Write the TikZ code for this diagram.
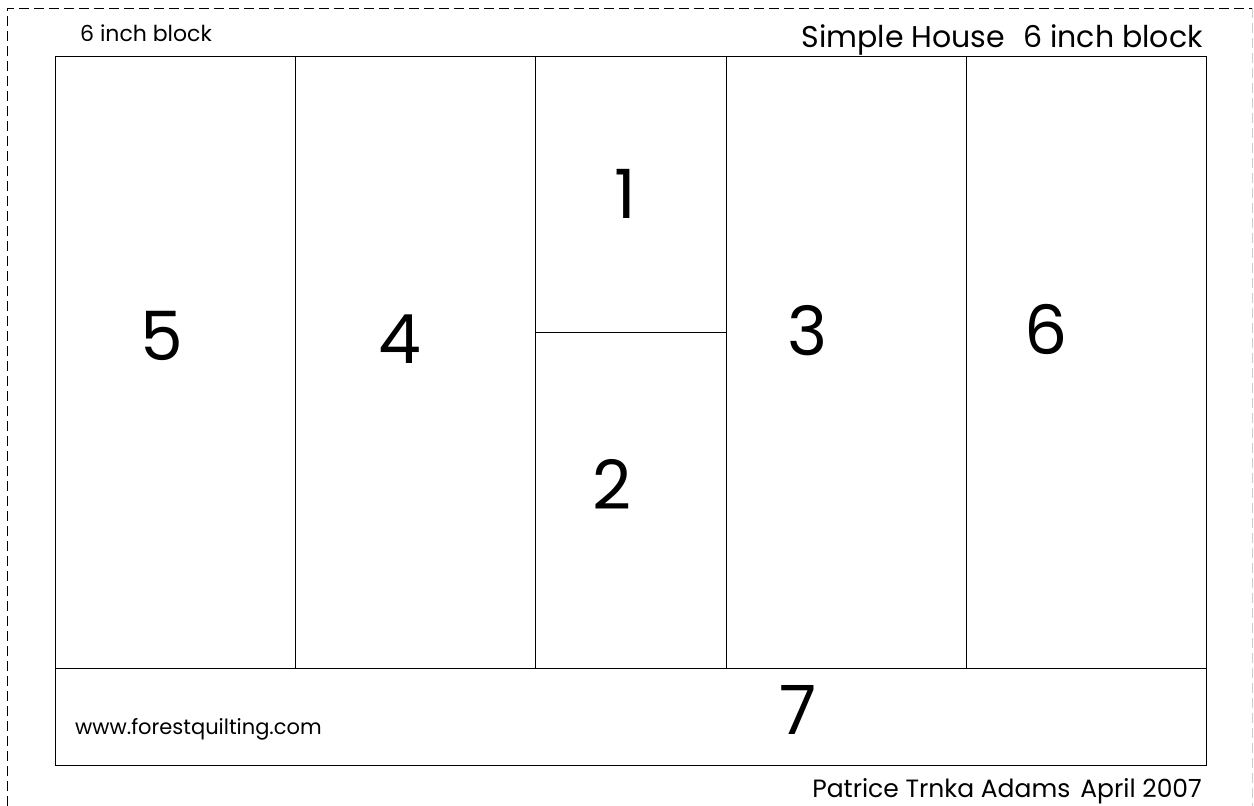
\documentclass[tikz,border=0pt]{standalone}
\usepackage{fontspec}
\setmainfont{Poppins}
\begin{document}
\begin{tikzpicture}[x=1pt,y=-1pt,
  cell/.style={draw=black,line width=0.9pt},
  num/.style={font=\fontsize{68}{68}\selectfont, inner sep=0pt},
  lbl/.style={inner sep=0pt, anchor=base west}]
\useasboundingbox (0,0) rectangle (1254,806);
\fill[white] (0,0) rectangle (1254,806);
% cut line
\draw[dash pattern=on 10pt off 5pt, line width=0.8pt] (7,806) -- (7,8) -- (1252,8);
\draw[dash pattern=on 10pt off 5pt, line width=0.8pt, gray!40] (1252,8) -- (1252,806);
% block
\coordinate (tl) at (55,56);
\coordinate (br) at (1206,765);
\draw[cell] (tl) rectangle (br);
\draw[cell] (55,668) -- (1206,668);
\foreach \x in {295,535,726,966} \draw[cell] (\x,56) -- (\x,668);
\draw[cell] (535,332) -- (726,332);
% numbers
\node[num] (n1) at (625,194) {1};
\node[num] (n2) at (612,484) {2};
\node[num] (n3) at (808,331) {3};
\node[num] (n4) at (400,339) {4};
\node[num] (n5) at (162,336) {5};
\node[num] (n6) at (1046,329) {6};
\node[num] (n7) at (798,710) {7};
% labels
\node[lbl, font=\fontsize{22}{22}\selectfont] (t1) at (80,41) {6 inch block};
\node[lbl, anchor=base east, font=\fontsize{30}{30}\selectfont] (t2) at (1203,47) {Simple House\hspace{0.6em}6 inch block};
\node[lbl, font=\fontsize{21}{21}\selectfont] (t3) at (75,734) {www.forestquilting.com};
\node[lbl, anchor=base east, font=\fontsize{25}{25}\selectfont] (t4) at (1202,797) {Patrice Trnka Adams\hspace{0.4em}April 2007};
\end{tikzpicture}
\end{document}
